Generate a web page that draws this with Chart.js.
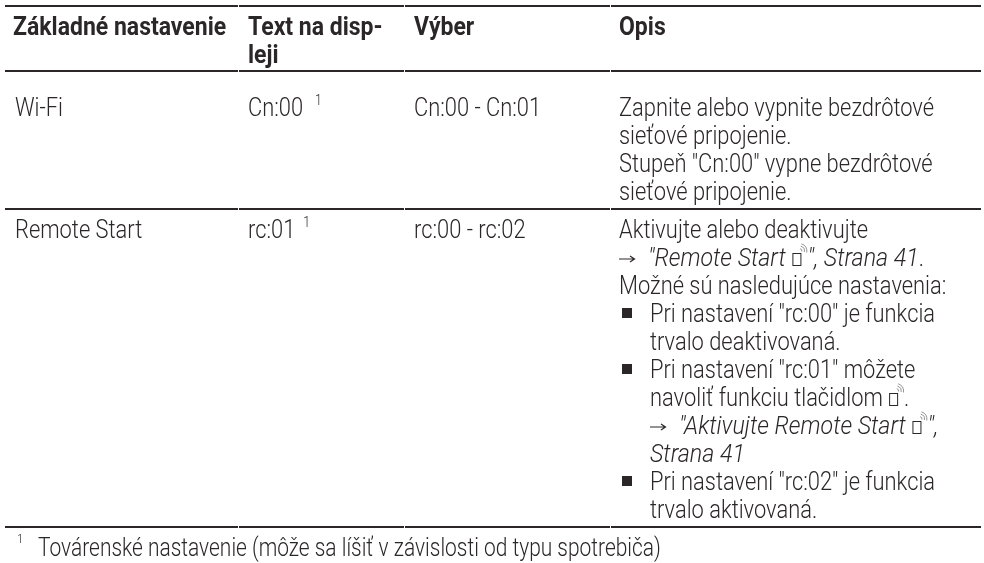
<!DOCTYPE html>
<html>
<head>
<meta charset="utf-8">
<style>
    html, body { margin: 0; padding: 0; background: #fff; }
    #wrap { width: 984px; height: 563px; }
</style>
<script src="https://cdn.jsdelivr.net/npm/chart.js@4"></script>
</head>
<body>
<div id="wrap"><canvas id="myChart" width="984" height="563"></canvas></div>
<script>
const INK = '#2b2728';

// table content
const headers = [['Základné nastavenie'], ['Text na disp-', 'leji'], ['Výber'], ['Opis']];
const rowNames = ['Wi-Fi', 'Remote Start'];
const displayTexts = ['Cn:00', 'rc:01'];
const displayNotes = ['1', '1'];
const choices = ['Cn:00 - Cn:01', 'rc:00 - rc:02'];
const wifiLines = [
    'Zapnite alebo vypnite bezdrôtové',
    'sieťové pripojenie.',
    'Stupeň "Cn:00" vypne bezdrôtové',
    'sieťové pripojenie.'
];
// @ marks the remote start icon, *...* marks italic, > is the arrow
const remoteLines = [
    'Aktivujte alebo deaktivujte',
    '> *"Remote Start @", Strana 41*.',
    'Možné sú nasledujúce nastavenia:',
    '• Pri nastavení "rc:00" je funkcia',
    '  trvalo deaktivovaná.',
    '• Pri nastavení "rc:01" môžete',
    '  navoliť funkciu tlačidlom @.',
    '  > *"Aktivujte Remote Start @",*',
    '  *Strana 41*',
    '• Pri nastavení "rc:02" je funkcia',
    '  trvalo aktivovaná.'
];
const footnoteMark = '1';
const footnote = 'Továrenské nastavenie (môže sa líšiť v závislosti od typu spotrebiča)';

// layout, in page pixels
const columnX = [13, 248, 414, 619];
const bulletIndent = 31;
const ruleY = [6, 71, 209, 527];
const ruleX = [[5, 238], [239, 404], [405, 610], [611, 981]];
const firstBaseline = [116, 238];
const lineHeight = 28;
const noteGap = [12, 8];
const bodyStretch = 0.875;
const italicStretch = 0.93;
const boldStretch = 0.92;

const ruleSets = [];
ruleY.forEach(y => ruleX.forEach(([a, b]) => {
    ruleSets.push({
        data: [{x: a, y: y}, {x: b, y: y}],
        showLine: true,
        borderColor: INK,
        borderWidth: 2,
        pointRadius: 0
    });
}));

function bodyFont(size, italic) {
    return (italic ? 'italic ' : '') + '300 ' + size + "px Roboto, 'Liberation Sans', sans-serif";
}

function drawRun(c, text, x, y, font, stretch) {
    c.save();
    c.font = font;
    c.translate(x, y);
    c.scale(stretch, 1);
    c.fillText(text, 0, 0);
    const w = c.measureText(text).width * stretch;
    c.restore();
    return w;
}

function drawIcon(c, x, y) {
    c.save();
    c.strokeStyle = INK;
    c.lineWidth = 1;
    c.strokeRect(x + 1.5, y - 12.5, 8, 12);
    c.lineWidth = 0.5;
    for (let r = 2.5; r <= 7.5; r += 2.5) {
        c.beginPath();
        c.arc(x + 8, y - 15, r, -1.3, 0.2);
        c.stroke();
    }
    c.restore();
    return 16;
}

function drawArrow(c, x, y) {
    c.save();
    c.strokeStyle = INK;
    c.lineWidth = 1.2;
    c.beginPath();
    c.moveTo(x, y - 7);
    c.lineTo(x + 15, y - 7);
    c.moveTo(x + 11, y - 10);
    c.lineTo(x + 15.5, y - 7);
    c.lineTo(x + 11, y - 4);
    c.stroke();
    c.restore();
    return 29;
}

// one line of mixed roman / italic text with icons
function drawLine(c, line, x, y, size, stretch) {
    let cx = x;
    let italic = false;
    if (line.startsWith('> ')) {
        cx += drawArrow(c, cx, y);
        line = line.slice(2);
    }
    line.split('*').forEach(part => {
        part.split('@').forEach((piece, i) => {
            if (i > 0) cx += drawIcon(c, cx, y);
            if (piece) cx += drawRun(c, piece, cx, y, bodyFont(size || 25, italic), stretch || (italic ? italicStretch : bodyStretch));
        });
        italic = !italic;
    });
}

const tableText = {
    id: 'tableText',
    afterDatasetsDraw(chart) {
        const c = chart.ctx;
        const sx = chart.scales.x;
        const sy = chart.scales.y;
        c.save();
        c.fillStyle = INK;
        c.textBaseline = 'alphabetic';

        headers.forEach((lines, col) => {
            lines.forEach((t, i) => {
                drawRun(c, t, sx.getPixelForValue(columnX[col]), sy.getPixelForValue(35 + i * lineHeight),
                    "bold 25px Roboto, 'Liberation Sans', sans-serif", boldStretch);
            });
        });

        rowNames.forEach((name, r) => {
            const y = sy.getPixelForValue(firstBaseline[r]);
            drawLine(c, name, sx.getPixelForValue(columnX[0] + 2), y);
            const w = drawRun(c, displayTexts[r], sx.getPixelForValue(columnX[1]), y, bodyFont(25), bodyStretch);
            drawRun(c, displayNotes[r], sx.getPixelForValue(columnX[1]) + w + noteGap[r], y - 11, bodyFont(14), bodyStretch);
            drawLine(c, choices[r], sx.getPixelForValue(columnX[2]), y);
        });

        wifiLines.forEach((t, i) => {
            drawLine(c, t, sx.getPixelForValue(columnX[3]), sy.getPixelForValue(firstBaseline[0] + i * lineHeight));
        });

        remoteLines.forEach((t, i) => {
            const y = sy.getPixelForValue(firstBaseline[1] + i * lineHeight);
            const x = sx.getPixelForValue(columnX[3]);
            if (t.startsWith('• ')) {
                c.fillRect(x + 3, y - 14, 10, 10);
                drawLine(c, t.slice(2), x + bulletIndent, y);
            } else if (t.startsWith('  ')) {
                drawLine(c, t.slice(2), x + bulletIndent, y);
            } else {
                drawLine(c, t, x, y);
            }
        });

        drawRun(c, footnoteMark, sx.getPixelForValue(17), sy.getPixelForValue(543), bodyFont(13), bodyStretch);
        drawLine(c, footnote, sx.getPixelForValue(38), sy.getPixelForValue(556), 26, 0.805);
        c.restore();
    }
};

new Chart(document.getElementById('myChart').getContext('2d'), {
    type: 'scatter',
    data: { datasets: ruleSets },
    options: {
        responsive: false,
        animation: false,
        layout: { padding: 0 },
        plugins: { legend: { display: false }, tooltip: { enabled: false } },
        scales: {
            x: { type: 'linear', display: false, min: 0, max: 984 },
            y: { type: 'linear', display: false, min: 0, max: 563, reverse: true }
        }
    },
    plugins: [tableText]
});
</script>
</body>
</html>
